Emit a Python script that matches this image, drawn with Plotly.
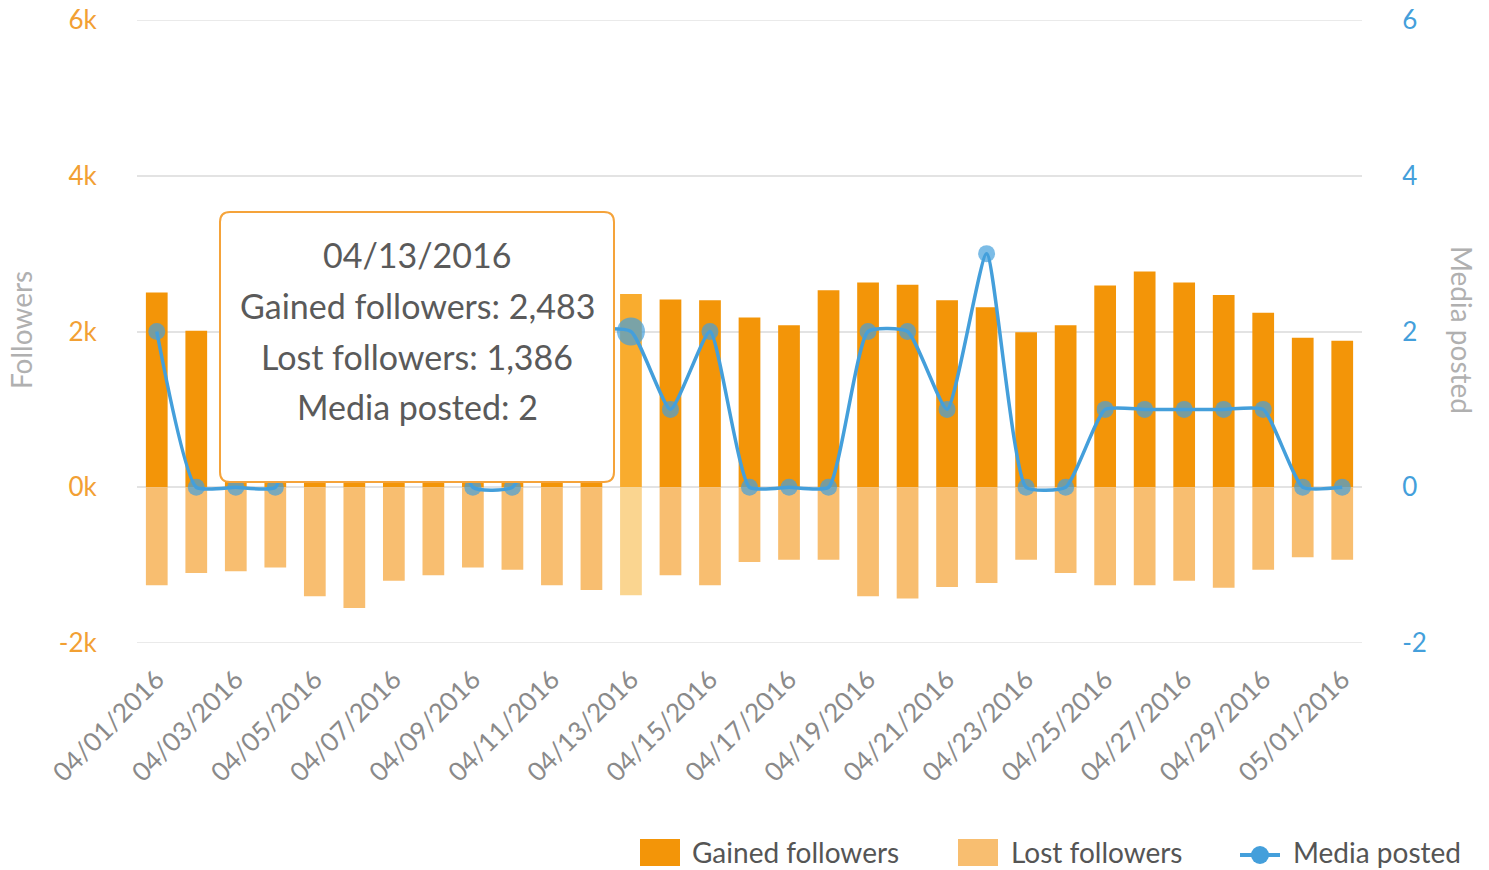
import plotly.graph_objects as go

dates = ["04/%02d/2016" % d for d in range(1, 31)] + ["05/01/2016"]
gained = [2500, 2010, 2250, 2150, 2400, 2300, 2150, 2350, 2200, 2100, 2300, 2250, 2483,
          2410, 2400, 2180, 2080, 2530, 2630, 2600, 2400, 2310, 1990, 2080, 2590, 2770,
          2630, 2470, 2240, 1920, 1880]
lost = [1260, 1100, 1080, 1030, 1400, 1550, 1200, 1130, 1030, 1060, 1260, 1320, 1386,
        1130, 1260, 960, 930, 930, 1400, 1430, 1280, 1230, 930, 1100, 1260, 1260,
        1200, 1290, 1060, 900, 930]
media = [2, 0, 0, 0, 2, 1, 1, 2, 0, 0, 1, 2, 2,
         1, 2, 0, 0, 0, 2, 2, 1, 3, 0, 0, 1, 1,
         1, 1, 1, 0, 0]
hover_idx = 12
tick_dates = dates[::2]
left_ticks = [-2000, 0, 2000, 4000, 6000]
left_text = ["-2k", "0k", "2k", "4k", "6k"]
right_ticks = [-2, 0, 2, 4, 6]
right_text = ["-2", "0", "2", "4", "6"]

GAIN = "#F39508"
GAIN_H = "#F9AC2E"
LOST = "#F8BE70"
LOST_H = "#FAD590"
BLUE = "#449FDB"
FONT = "Lato"
GRID = "#E3E3E3"

n = len(dates)
gain_colors = [GAIN_H if i == hover_idx else GAIN for i in range(n)]
lost_colors = [LOST_H if i == hover_idx else LOST for i in range(n)]
msizes = [28 if i == hover_idx else 17 for i in range(n)]

fig = go.Figure()
fig.add_trace(go.Bar(x=dates, y=gained, name="Gained followers",
                     marker=dict(color=gain_colors, line=dict(width=0)), width=0.55))
fig.add_trace(go.Bar(x=dates, y=[-v for v in lost], name="Lost followers",
                     marker=dict(color=lost_colors, line=dict(width=0)), width=0.55))
fig.add_trace(go.Scatter(x=dates, y=media, name="Media posted", yaxis="y2",
                         mode="lines+markers",
                         line=dict(color=BLUE, width=3.5, shape="spline", smoothing=0.5),
                         marker=dict(color=BLUE, size=msizes, line=dict(width=0))))

W, H = 1489, 870
ml, mr, mt, mb = 137, 127, 20, 227
pw, ph = W - ml - mr, H - mt - mb

def px(x):
    return (x - ml) / pw

def py(y):
    return (H - mb - y) / ph

fig.update_layout(
    width=W, height=H,
    margin=dict(l=ml, r=mr, t=mt, b=mb, autoexpand=False),
    paper_bgcolor="white", plot_bgcolor="white",
    barmode="relative",
    font=dict(family=FONT, color="#666"),
    showlegend=False,
    xaxis=dict(type="category", range=[-0.5, n - 0.5], automargin=False,
               tickmode="array", tickvals=tick_dates, ticktext=tick_dates,
               tickangle=-45, tickfont=dict(size=26, color="#8a8a8a"),
               ticks="outside", ticklen=10, tickcolor="rgba(0,0,0,0)",
               showgrid=False, showline=False, zeroline=False),
    yaxis=dict(range=[left_ticks[0], left_ticks[-1]], tickvals=left_ticks,
               ticktext=left_text, automargin=False,
               tickfont=dict(size=26, color="#F2A033"),
               ticks="outside", ticklen=34, tickcolor="rgba(0,0,0,0)",
               showgrid=True, gridcolor=GRID, gridwidth=1.5,
               zeroline=True, zerolinecolor=GRID, zerolinewidth=1.5,
               showline=False),
    yaxis2=dict(range=[right_ticks[0], right_ticks[-1]], tickvals=right_ticks,
                ticktext=right_text, overlaying="y",
                side="right", automargin=False,
                tickfont=dict(size=26, color=BLUE),
                ticks="outside", ticklen=34, tickcolor="rgba(0,0,0,0)",
                showgrid=False, zeroline=False, showline=False),
)

# edge grid lines (plotly skips gridlines at the range boundaries)
for v in (left_ticks[0], left_ticks[-1]):
    fig.add_shape(type="line", xref="paper", yref="y", x0=0, x1=1, y0=v, y1=v,
                  line=dict(color=GRID, width=1.5), layer="below")

# axis titles
fig.add_annotation(text="Followers", xref="paper", yref="paper", x=px(21), y=py(330),
                   textangle=-90, showarrow=False, font=dict(size=28, color="#B0B0B0"),
                   xanchor="center", yanchor="middle")
fig.add_annotation(text="Media posted", xref="paper", yref="paper", x=px(1462), y=py(330),
                   textangle=90, showarrow=False, font=dict(size=28, color="#B0B0B0"),
                   xanchor="center", yanchor="middle")

# manual legend
ly = 852
fig.add_shape(type="rect", xref="paper", yref="paper", x0=px(640), x1=px(680),
              y0=py(866), y1=py(839), fillcolor=GAIN, line=dict(width=0))
fig.add_annotation(text="Gained followers", xref="paper", yref="paper", x=px(690), y=py(ly),
                   xanchor="left", yanchor="middle", showarrow=False,
                   font=dict(size=28, color="#555"))
fig.add_shape(type="rect", xref="paper", yref="paper", x0=px(958), x1=px(998),
              y0=py(866), y1=py(839), fillcolor=LOST, line=dict(width=0))
fig.add_annotation(text="Lost followers", xref="paper", yref="paper", x=px(1009), y=py(ly),
                   xanchor="left", yanchor="middle", showarrow=False,
                   font=dict(size=28, color="#555"))
fig.add_shape(type="line", xref="paper", yref="paper", x0=px(1240), x1=px(1280),
              y0=py(855), y1=py(855), line=dict(color=BLUE, width=4))
fig.add_shape(type="circle", xref="paper", yref="paper", x0=px(1251), x1=px(1269),
              y0=py(864), y1=py(846), fillcolor=BLUE, line=dict(width=0))
fig.add_annotation(text="Media posted", xref="paper", yref="paper", x=px(1291), y=py(ly),
                   xanchor="left", yanchor="middle", showarrow=False,
                   font=dict(size=28, color="#555"))

# hover tooltip replica
x0, x1, y0, y1 = 220, 614, 212, 482
r = 10
X0, X1 = px(x0), px(x1)
Y0, Y1 = py(y1), py(y0)
rx, ry = r / pw, r / ph
path = (f"M {X0+rx},{Y0} L {X1-rx},{Y0} Q {X1},{Y0} {X1},{Y0+ry} "
        f"L {X1},{Y1-ry} Q {X1},{Y1} {X1-rx},{Y1} L {X0+rx},{Y1} "
        f"Q {X0},{Y1} {X0},{Y1-ry} L {X0},{Y0+ry} Q {X0},{Y0} {X0+rx},{Y0} Z")
fig.add_shape(type="path", path=path, xref="paper", yref="paper",
              fillcolor="white", line=dict(color="#F5A33A", width=2), layer="above")
lines = [dates[hover_idx],
         f"Gained followers: {gained[hover_idx]:,}",
         f"Lost followers: {lost[hover_idx]:,}",
         f"Media posted: {media[hover_idx]}"]
for k, t in enumerate(lines):
    fig.add_annotation(text=t, xref="paper", yref="paper", x=px((x0 + x1) / 2),
                       y=py(254 + 51 * k), showarrow=False,
                       font=dict(size=34, color="#5a5a5a"),
                       xanchor="center", yanchor="middle")

fig.write_html("out.html")
